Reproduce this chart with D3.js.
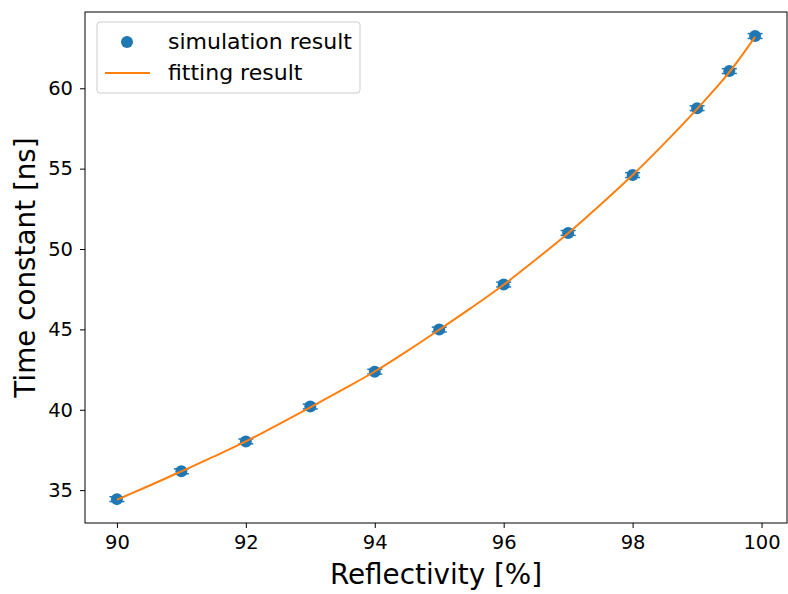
<!DOCTYPE html>
<html lang="en">
<head>
  <meta charset="UTF-8">
  <title>Time constant vs reflectivity</title>
  <script src="https://d3js.org/d3.v7.min.js"></script>
  <style>
    body { margin: 0; background: #fff; }
    svg text { font-family: "DejaVu Sans", sans-serif; fill: #000; }
  </style>
</head>
<body>
  <div id="chart"></div>
  <script>
    // simulation points
    const reflectivity = [90, 91, 92, 93, 94, 95, 96, 97, 98, 99, 99.5, 99.9];
    const timeConstant = [34.44, 36.17, 38.03, 40.2, 42.37, 44.99, 47.79, 51.0, 54.6, 58.76, 61.07, 63.25];
    const timeError = [0.15, 0.15, 0.15, 0.15, 0.15, 0.15, 0.15, 0.15, 0.15, 0.15, 0.15, 0.15];

    // fitted curve, sampled by eye along the orange line
    const fitX = [90, 90.5, 91, 91.5, 92, 92.5, 93, 93.5, 94, 94.5, 95, 95.5, 96, 96.5, 97, 97.5, 98, 98.5, 99, 99.5, 99.9];
    const fitY = [34.4, 35.27, 36.17, 37.08, 38.03, 39.08, 40.15, 41.25, 42.38, 43.65, 44.98, 46.35, 47.78, 49.35, 50.98, 52.75, 54.6, 56.6, 58.72, 61.0, 63.2];

    const xTicks = [90, 92, 94, 96, 98, 100];
    const yTicks = [35, 40, 45, 50, 55, 60];

    const width = 788, height = 594;
    const margin = { top: 12, right: 1, bottom: 71, left: 85 };

    const svg = d3.select("#chart").append("svg")
      .attr("width", width)
      .attr("height", height);

    const x = d3.scaleLinear()
      .domain([89.505, 100.395])
      .range([margin.left, width - margin.right]);
    const y = d3.scaleLinear()
      .domain([32.955, 64.745])
      .range([height - margin.bottom, margin.top]);

    const blue = "#1f77b4", orange = "#ff7f0e";

    // axes
    const xAxis = svg.append("g")
      .attr("transform", `translate(0,${height - margin.bottom})`)
      .call(d3.axisBottom(x).tickValues(xTicks).tickSize(5).tickPadding(7).tickFormat(d3.format("d")));
    const yAxis = svg.append("g")
      .attr("transform", `translate(${margin.left},0)`)
      .call(d3.axisLeft(y).tickValues(yTicks).tickSize(5).tickPadding(7).tickFormat(d3.format("d")));
    [xAxis, yAxis].forEach(g => {
      g.select(".domain").remove();
      g.selectAll(".tick line").attr("stroke", "#000").attr("stroke-width", 1);
      g.selectAll(".tick text").style("font-size", "19.5px");
    });

    // frame
    svg.append("rect")
      .attr("x", margin.left).attr("y", margin.top)
      .attr("width", width - margin.right - margin.left)
      .attr("height", height - margin.bottom - margin.top)
      .attr("fill", "none").attr("stroke", "#000").attr("stroke-width", 1);

    const pts = reflectivity.map((r, i) => ({ r: r, t: timeConstant[i], e: timeError[i] }));

    // error bars
    const eb = svg.append("g").attr("stroke", blue).attr("stroke-width", 1.5);
    pts.forEach(d => {
      eb.append("line")
        .attr("x1", x(d.r)).attr("x2", x(d.r))
        .attr("y1", y(d.t - d.e)).attr("y2", y(d.t + d.e));
      [d.t - d.e, d.t + d.e].forEach(v => {
        eb.append("line")
          .attr("x1", x(d.r) - 7.5).attr("x2", x(d.r) + 7.5)
          .attr("y1", y(v)).attr("y2", y(v));
      });
    });

    // points
    svg.append("g").selectAll("circle")
      .data(pts)
      .enter()
      .append("circle")
      .attr("cx", d => x(d.r))
      .attr("cy", d => y(d.t))
      .attr("r", 6)
      .attr("fill", blue);

    // fit line
    const line = d3.line()
      .x(d => x(d[0]))
      .y(d => y(d[1]))
      .curve(d3.curveMonotoneX);
    svg.append("path")
      .datum(fitX.map((v, i) => [v, fitY[i]]))
      .attr("d", line)
      .attr("fill", "none")
      .attr("stroke", orange)
      .attr("stroke-width", 2);

    // axis labels
    svg.append("text")
      .attr("x", (margin.left + width - margin.right) / 2)
      .attr("y", 584)
      .attr("text-anchor", "middle")
      .style("font-size", "27.8px")
      .text("Reflectivity [%]");
    svg.append("text")
      .attr("transform", `translate(35,${(margin.top + height - margin.bottom) / 2}) rotate(-90)`)
      .attr("text-anchor", "middle")
      .style("font-size", "27.8px")
      .text("Time constant [ns]");

    // legend
    const lg = svg.append("g");
    lg.append("rect")
      .attr("x", 97).attr("y", 22).attr("width", 263).attr("height", 71)
      .attr("rx", 3)
      .attr("fill", "#fff").attr("fill-opacity", 0.8)
      .attr("stroke", "#ccc");
    lg.append("circle").attr("cx", 127).attr("cy", 42).attr("r", 6).attr("fill", blue);
    lg.append("line").attr("x1", 105).attr("x2", 150).attr("y1", 73).attr("y2", 73)
      .attr("stroke", orange).attr("stroke-width", 2);
    lg.append("text").attr("x", 168).attr("y", 49).style("font-size", "22px").text("simulation result");
    lg.append("text").attr("x", 168).attr("y", 80).style("font-size", "22px").text("fitting result");
  </script>
</body>
</html>
